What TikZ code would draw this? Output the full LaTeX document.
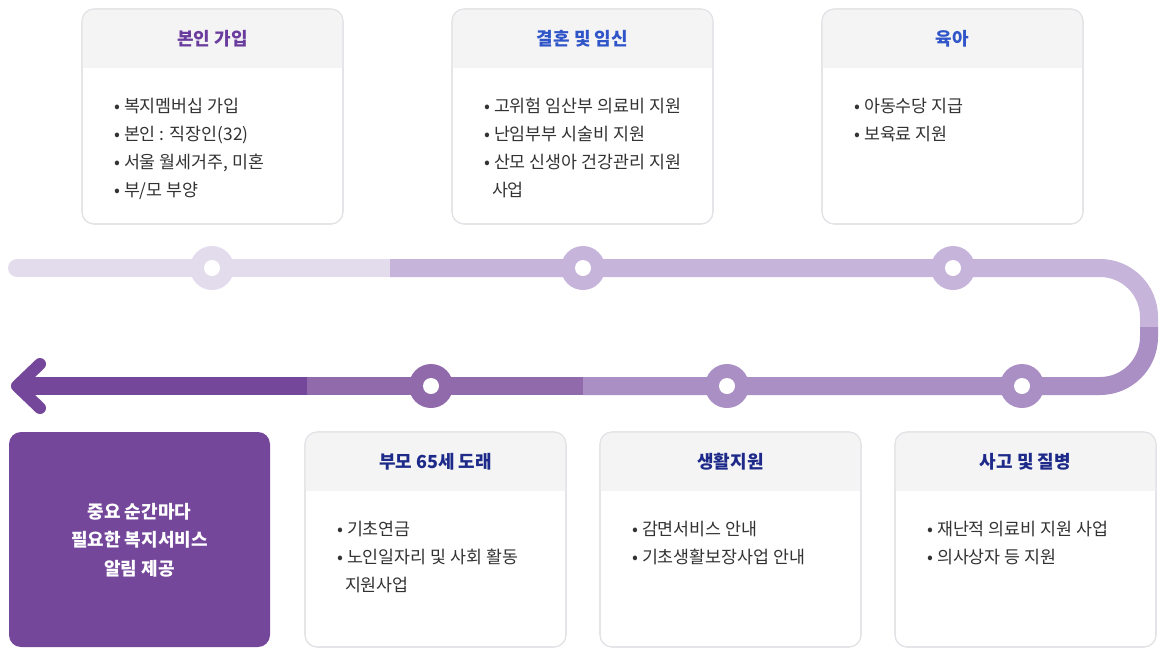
\documentclass[tikz,border=0pt]{standalone}
\usepackage{fontspec}
\setmainfont{Noto Sans CJK KR}
\definecolor{hdr}{HTML}{F4F4F5}
\definecolor{bd}{HTML}{E2E2E6}
\definecolor{pur}{HTML}{74479B}
\definecolor{tA}{HTML}{E2DCEC}
\definecolor{tB}{HTML}{C6B4DA}
\definecolor{tC}{HTML}{AA8FC5}
\definecolor{tD}{HTML}{916AAB}
\definecolor{hblue}{HTML}{2F55C8}
\definecolor{hnavy}{HTML}{1E2A8A}
\definecolor{hpur}{HTML}{6A3C9E}
\definecolor{txt}{HTML}{333333}
\tikzset{x=0.75pt,y=-0.75pt,
 card/.style={draw=bd,line width=0.8pt,fill=white,rounded corners=9pt},
 htext/.style={font=\fontsize{13.5}{16}\selectfont\bfseries},
 items/.style={anchor=north west,align=left,text=txt,font=\fontsize{13}{21}\selectfont,inner sep=0pt},
 tl/.style={line width=13.5pt},
 dot/.style={circle,fill=#1,minimum size=33pt,inner sep=0pt},
 hole/.style={circle,fill=white,minimum size=12pt,inner sep=0pt}}
\newcommand{\mycard}[6]{%
 \draw[card] (#1,#2) rectangle ++(261,215);
 \begin{scope}
 \clip[rounded corners=9pt] (#1,#2) rectangle ++(261,215);
 \fill[hdr] (#1,#2) rectangle ++(261,59);
 \end{scope}
 \draw[card,fill=none] (#1,#2) rectangle ++(261,215);
 \node[htext,text=#3] (#6) at (#1+130.5,#2+30) {#4};
 \node[items] at (#1+32,#2+89) {#5};}
\begin{document}
\begin{tikzpicture}
\useasboundingbox (0,0) rectangle (1167,658);
% timeline
\draw[tl,tA,line cap=round] (17,268) -- (390,268);
\draw[tl,tB] (390,268) -- (1100,268) arc[start angle=-90,end angle=0,radius=49] -- (1149,327);
\draw[tl,tC] (1149,327) -- (1149,337) arc[start angle=0,end angle=90,radius=49] -- (583,386);
\draw[tl,tD] (583,386) -- (307,386);
\draw[tl,pur] (307,386) -- (26,386);
\draw[pur,line width=9pt,line cap=round,line join=round] (40,364) -- (17,386) -- (40,408);
\foreach \x/\c [count=\i] in {212/tA,583/tB,953/tB}{\node[dot=\c] (t\i) at (\x,268) {}; \node[hole] at (t\i) {};}
\foreach \x/\c [count=\i] in {1022/tC,727/tC,431/tD}{\node[dot=\c] (b\i) at (\x,386) {}; \node[hole] at (b\i) {};}
% cards
\mycard{82}{9}{hpur}{본인 가입}{• 복지멤버십 가입\\• 본인 : 직장인(32)\\• 서울 월세거주, 미혼\\• 부/모 부양}{c1}
\mycard{452}{9}{hblue}{결혼 및 임신}{• 고위험 임산부 의료비 지원\\• 난임부부 시술비 지원\\• 산모 신생아 건강관리 지원\\\ \ 사업}{c2}
\mycard{822}{9}{hblue}{육아}{• 아동수당 지급\\• 보육료 지원}{c3}
\mycard{305}{432}{hnavy}{부모 65세 도래}{• 기초연금\\• 노인일자리 및 사회 활동\\\ \ 지원사업}{c4}
\mycard{600}{432}{hnavy}{생활지원}{• 감면서비스 안내\\• 기초생활보장사업 안내}{c5}
\mycard{895}{432}{hnavy}{사고 및 질병}{• 재난적 의료비 지원 사업\\• 의사상자 등 지원}{c6}
\fill[pur,rounded corners=9pt] (9,432) rectangle (270,647);
\node[text=white,align=center,font=\fontsize{13.5}{21.5}\selectfont\bfseries] (main) at (139.5,540) {중요 순간마다\\필요한 복지서비스\\알림 제공};
\end{tikzpicture}
\end{document}
